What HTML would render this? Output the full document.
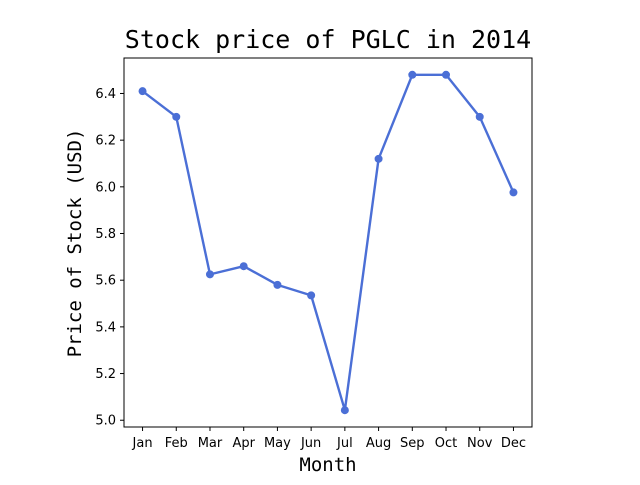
<!DOCTYPE html>
<html><head><meta charset="utf-8"><style>
body{margin:0;background:#fff;}
svg text{font-family:"DejaVu Sans","Liberation Sans",sans-serif;}
</style></head><body>
<svg id="chart" width="640" height="480" xmlns="http://www.w3.org/2000/svg">
<rect width="640" height="480" fill="#fff"/>
<text x="328" y="48" text-anchor="middle" font-size="25" style="font-family:'DejaVu Sans Mono','Liberation Mono',monospace">Stock price of PGLC in 2014</text>
<text x="328" y="471" text-anchor="middle" font-size="19" style="font-family:'DejaVu Sans Mono','Liberation Mono',monospace">Month</text>
<text transform="translate(81,243) rotate(-90)" text-anchor="middle" font-size="19" style="font-family:'DejaVu Sans Mono','Liberation Mono',monospace">Price of Stock (USD)</text>
<g id="ticks"></g>
<g id="series"></g>
<rect x="124" y="58" width="408" height="369" fill="none" stroke="#000" stroke-width="1"/>
</svg>
<script>
const months=["Jan","Feb","Mar","Apr","May","Jun","Jul","Aug","Sep","Oct","Nov","Dec"];
const prices=[6.41,6.30,5.625,5.66,5.58,5.535,5.043,6.12,6.48,6.48,6.30,5.976];
const yTicks=[5.0,5.2,5.4,5.6,5.8,6.0,6.2,6.4];
const yTickLabels=["5.0","5.2","5.4","5.6","5.8","6.0","6.2","6.4"];
const L=124,R=532,T=58,B=427;
const yMin=4.971,yMax=6.552;
function xs(i){return L+(i+0.55)/(months.length-1+1.1)*(R-L);}
function ys(v){return B-(v-yMin)/(yMax-yMin)*(B-T);}
const NS="http://www.w3.org/2000/svg";
const tg=document.getElementById('ticks');
function mk(tag,attrs,parent){const e=document.createElementNS(NS,tag);for(const k in attrs)e.setAttribute(k,attrs[k]);parent.appendChild(e);return e;}
months.forEach((m,i)=>{
  const x=xs(i);
  const l=mk('line',{x1:x,x2:x,y1:B,y2:B+4,stroke:'#000'},tg);
  
  
  const t=mk('text',{x:x,y:B+20,'text-anchor':'middle','font-size':'13'},tg);
  t.textContent=m;
  
  
});
yTicks.forEach((v,i)=>{
  const y=ys(v);
  const l=mk('line',{x1:L-4,x2:L,y1:y,y2:y,stroke:'#000'},tg);
  
  
  const t=mk('text',{x:L-8,y:y+4.5,'text-anchor':'end','font-size':'13'},tg);
  t.textContent=yTickLabels[i];
  
  
});
const sg=document.getElementById('series');
const pts=prices.map((p,i)=>xs(i)+','+ys(p)).join(' ');
const pl=mk('polyline',{points:pts,fill:'none',stroke:'#4b6fd6','stroke-width':'2.4','stroke-linejoin':'round'},sg);


prices.forEach((p,i)=>{
  const c=mk('circle',{cx:xs(i),cy:ys(p),r:4,fill:'#4b6fd6'},sg);
  
  
});
</script>
</body></html>
